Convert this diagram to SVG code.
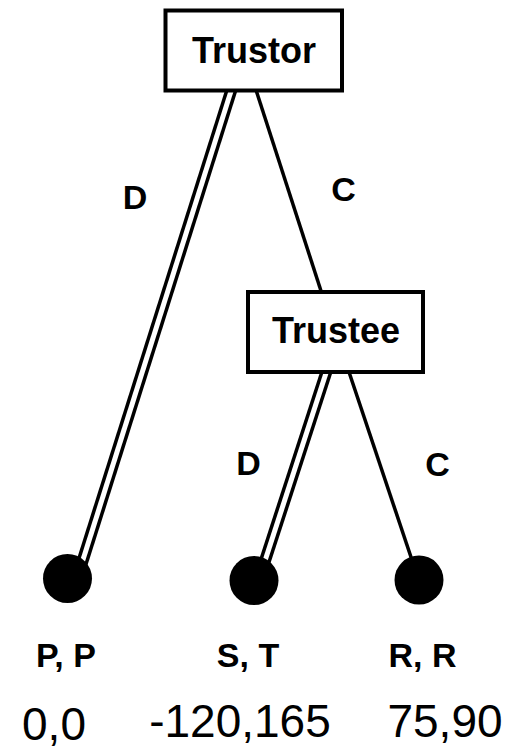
<svg xmlns="http://www.w3.org/2000/svg" width="521" height="750" viewBox="0 0 521 750">
<style>
.box{fill:#fff;stroke:#000;stroke-width:4}
.name{font-family:"Liberation Sans",Arial,sans-serif;font-weight:bold;font-size:36px;text-anchor:middle;fill:#000}
.lbl{font-family:"Liberation Sans",Arial,sans-serif;font-weight:bold;font-size:34px;text-anchor:middle;fill:#000}
.num{font-family:"Liberation Sans",Arial,sans-serif;font-size:46px;text-anchor:middle;fill:#000}
.single{stroke:#000;stroke-width:3.5;fill:none}
.dblo{stroke:#000;stroke-width:12;fill:none}
.dbli{stroke:#fff;stroke-width:5;fill:none}
.leaf{fill:#000}
</style>
<rect width="521" height="750" fill="#fff"/>
<g id="connectors">
  <line class="dblo" x1="232" y1="88" x2="81" y2="566"/>
  <line class="dbli" x1="232" y1="88" x2="81" y2="566"/>
  <line class="single" x1="256" y1="90" x2="322" y2="294"/>
  <line class="dblo" x1="327" y1="370" x2="262" y2="570"/>
  <line class="dbli" x1="327" y1="370" x2="262" y2="570"/>
  <line class="single" x1="349" y1="372" x2="416" y2="572"/>
</g>
<g id="trustor">
  <rect class="box" x="165.5" y="10.5" width="176.5" height="80"/>
  <text class="name" x="254" y="63">Trustor</text>
</g>
<g id="trustee">
  <rect class="box" x="248" y="292" width="175" height="80"/>
  <text class="name" x="336" y="343">Trustee</text>
</g>
<g id="leaf-pp">
  <circle class="leaf" cx="67.5" cy="578.5" r="24.5"/>
</g>
<g id="leaf-st">
  <circle class="leaf" cx="254" cy="580.5" r="24.5"/>
</g>
<g id="leaf-rr">
  <circle class="leaf" cx="419" cy="580" r="24.5"/>
</g>
<g id="edge-labels">
  <text class="lbl" x="135" y="209">D</text>
  <text class="lbl" x="343.5" y="201">C</text>
  <text class="lbl" x="248.5" y="475">D</text>
  <text class="lbl" x="437.5" y="476">C</text>
</g>
<g id="payoffs">
  <text class="lbl" x="66" y="667">P, P</text>
  <text class="lbl" x="248" y="667">S, T</text>
  <text class="lbl" x="422.5" y="667">R, R</text>
  <text class="num" x="54" y="740">0,0</text>
  <text class="num" x="240" y="737">-120,165</text>
  <text class="num" x="445" y="737">75,90</text>
</g>
</svg>
